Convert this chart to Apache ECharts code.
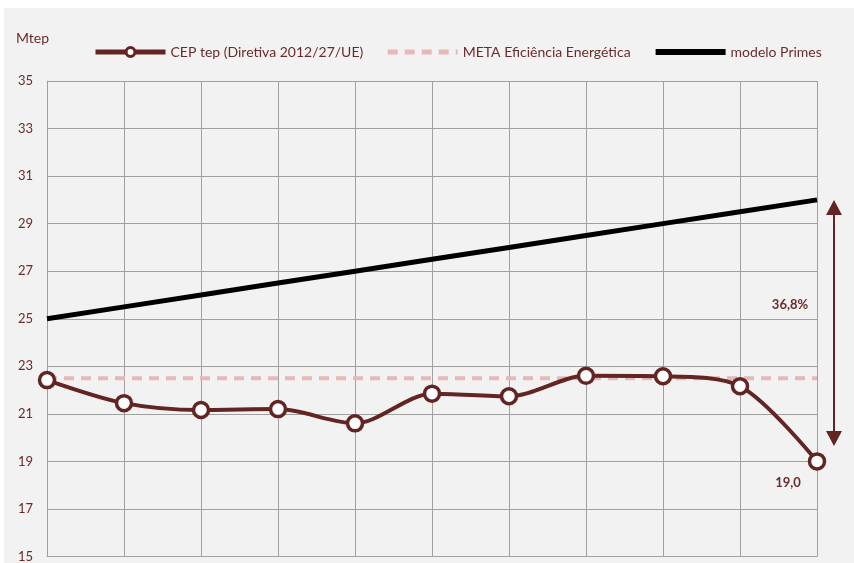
<!DOCTYPE html>
<html>
<head>
    <meta charset="UTF-8">
    <title>CEP vs meta</title>
    <script src="https://cdn.jsdelivr.net/npm/echarts@6/dist/echarts.min.js"></script>
    <style>
        body { margin: 0; background: #ffffff; }
        #chart {
            position: absolute;
            left: 4px;
            top: 8px;
            width: 850px;
            height: 555px;
        }
    </style>
</head>
<body>
    <div id="chart"></div>
    <script type="text/javascript">
        // dados
        var anos = ['0', '1', '2', '3', '4', '5', '6', '7', '8', '9', '10'];
        var cep = [22.42, 21.45, 21.16, 21.2, 20.6, 21.85, 21.74, 22.6, 22.58, 22.16, 19.0];
        var meta = [22.5, 22.5, 22.5, 22.5, 22.5, 22.5, 22.5, 22.5, 22.5, 22.5, 22.5];
        var primes = [25, 25.5, 26, 26.5, 27, 27.5, 28, 28.5, 29, 29.5, 30];
        var yTicks = [15, 17, 19, 21, 23, 25, 27, 29, 31, 33, 35];

        var corTexto = '#6b2b2b';
        var corCep = '#632523';
        var corMeta = '#e6b8b7';
        var fonte = 'Lato, "Open Sans", sans-serif';

        var chart = echarts.init(document.getElementById('chart'));

        var option = {
            backgroundColor: '#f2f2f2',
            animation: false,
            textStyle: { fontFamily: fonte },
            title: {
                text: 'Mtep',
                left: 7,
                top: 18,
                textStyle: { color: corTexto, fontSize: 14, fontWeight: 'normal', fontFamily: fonte }
            },
            legend: {
                left: 84,
                top: 32,
                itemWidth: 70,
                itemHeight: 11,
                itemGap: 22,
                textStyle: { color: corTexto, fontSize: 14, fontFamily: fonte },
                data: [
                    {
                        name: 'CEP tep (Diretiva 2012/27/UE)',
                        lineStyle: { width: 5 },
                        itemStyle: { color: '#ffffff', borderColor: corCep, borderWidth: 3 }
                    },
                    {
                        name: 'META Eficiência Energética',
                        lineStyle: { width: 5, type: [10, 7] },
                        itemStyle: { opacity: 0 }
                    },
                    {
                        name: 'modelo Primes',
                        lineStyle: { width: 6 },
                        itemStyle: { opacity: 0 }
                    }
                ]
            },
            grid: { left: 43, right: 37, top: 73, bottom: 5 },
            xAxis: {
                type: 'category',
                data: anos,
                boundaryGap: false,
                axisLabel: { show: false },
                axisTick: { show: false },
                axisLine: { lineStyle: { color: '#a0a0a0', width: 1 } },
                splitLine: { show: true, lineStyle: { color: '#a0a0a0', width: 1 } }
            },
            yAxis: {
                type: 'value',
                min: yTicks[0],
                max: yTicks[yTicks.length - 1],
                interval: 2,
                axisLine: { show: true, lineStyle: { color: '#a0a0a0', width: 1 } },
                axisTick: { show: false },
                axisLabel: { color: corTexto, fontSize: 13, margin: 14, fontFamily: fonte },
                splitLine: { lineStyle: { color: '#a0a0a0', width: 1 } }
            },
            series: [
                {
                    name: 'modelo Primes',
                    type: 'line',
                    data: primes,
                    symbol: 'none',
                    lineStyle: { color: '#000000', width: 5 },
                    itemStyle: { color: '#000000' },
                    z: 2
                },
                {
                    name: 'META Eficiência Energética',
                    type: 'line',
                    data: meta,
                    symbol: 'none',
                    lineStyle: { color: corMeta, width: 4, type: [10, 7] },
                    itemStyle: { color: corMeta },
                    z: 3
                },
                {
                    name: 'CEP tep (Diretiva 2012/27/UE)',
                    type: 'line',
                    data: cep,
                    smooth: 0.3,
                    symbol: 'circle',
                    symbolSize: 15,
                    lineStyle: { color: corCep, width: 4 },
                    itemStyle: { color: '#ffffff', borderColor: corCep, borderWidth: 3.5 },
                    z: 4,
                    label: {
                        show: true,
                        position: 'bottom',
                        distance: 6,
                        offset: [-29, 0],
                        color: corTexto,
                        fontWeight: 'bold',
                        fontSize: 13,
                        fontFamily: fonte,
                        formatter: function (p) {
                            return p.dataIndex === cep.length - 1 ? p.value.toFixed(1).replace('.', ',') : '';
                        }
                    }
                }
            ]
        };

        chart.setOption(option);

        // seta vertical entre o modelo Primes e o CEP final
        var ultimo = anos.length - 1;
        var topo = chart.convertToPixel({ seriesIndex: 0 }, [ultimo, primes[ultimo]]);
        var base = chart.convertToPixel({ seriesIndex: 2 }, [ultimo, 19.65]);
        var meio = chart.convertToPixel({ seriesIndex: 2 }, [ultimo, 25.6]);
        var ax = topo[0] + 17;
        var cab = 15, larg = 8;

        chart.setOption({
            graphic: [
                {
                    type: 'line',
                    shape: { x1: ax, y1: topo[1] + cab - 2, x2: ax, y2: base[1] - cab + 2 },
                    style: { stroke: corCep, lineWidth: 2 }
                },
                {
                    type: 'polygon',
                    shape: { points: [[ax, topo[1]], [ax - larg, topo[1] + cab], [ax + larg, topo[1] + cab]] },
                    style: { fill: corCep }
                },
                {
                    type: 'polygon',
                    shape: { points: [[ax, base[1]], [ax - larg, base[1] - cab], [ax + larg, base[1] - cab]] },
                    style: { fill: corCep }
                },
                {
                    type: 'text',
                    x: ax - 44,
                    y: meio[1],
                    style: {
                        text: '36,8%',
                        fill: corTexto,
                        font: 'bold 13px ' + fonte,
                        align: 'center',
                        verticalAlign: 'middle'
                    }
                }
            ]
        });
    </script>
</body>
</html>
